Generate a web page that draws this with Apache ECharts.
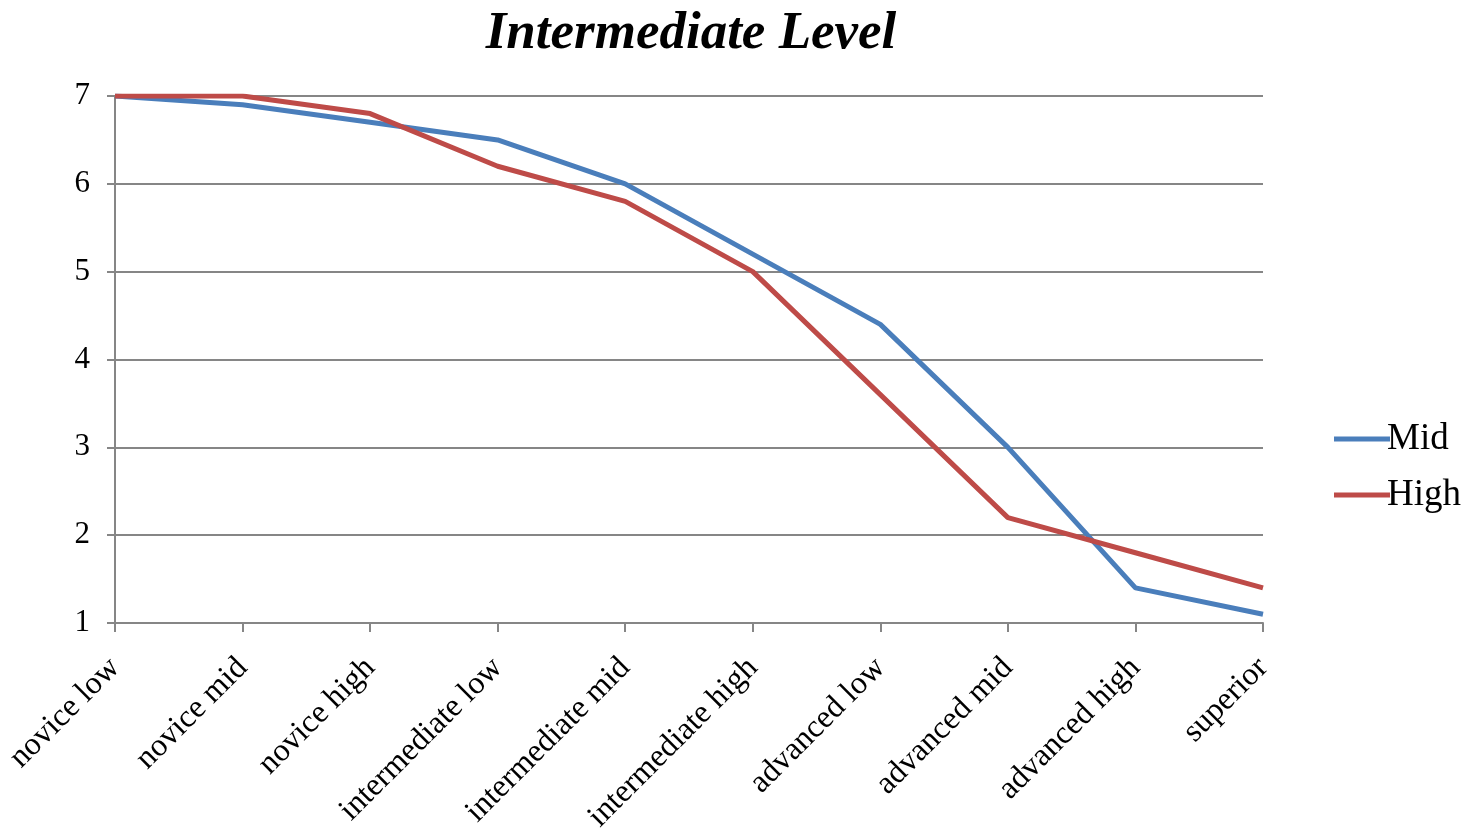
<!DOCTYPE html>
<html>
<head>
<meta charset="utf-8">
<script src="https://cdn.jsdelivr.net/npm/echarts@6/dist/echarts.min.js"></script>
<style>
html,body{margin:0;padding:0;background:#fff;}
#chart{width:1467px;height:828px;}
</style>
</head>
<body>
<div id="chart"></div>
<script>
const categories = ['novice low','novice mid','novice high','intermediate low','intermediate mid','intermediate high','advanced low','advanced mid','advanced high','superior'];
const midValues  = [7.0, 6.9, 6.7, 6.5, 6.0, 5.2, 4.4, 3.0, 1.4, 1.1];
const highValues = [7.0, 7.0, 6.8, 6.2, 5.8, 5.0, 3.6, 2.2, 1.8, 1.4];
const seriesNames = ['Mid', 'High'];
const titleText = 'Intermediate Level';

const serif = '"Liberation Serif","Times New Roman",serif';
const gridGrey = '#868686';

const chart = echarts.init(document.getElementById('chart'));
chart.setOption({
  backgroundColor: '#fff',
  animation: false,
  title: {
    text: titleText,
    left: 686,
    textAlign: 'center',
    top: 3,
    textStyle: { fontFamily: serif, fontSize: 53, fontWeight: 'bold', fontStyle: 'italic', color: '#000' }
  },
  legend: {
    orient: 'vertical',
    left: 1329,
    top: 414,
    itemWidth: 56,
    itemHeight: 5,
    itemGap: 16,
    icon: 'rect',
    textStyle: { fontFamily: serif, fontSize: 37, color: '#000', lineHeight: 40, padding: [0,0,0,-8] },
    data: seriesNames
  },
  grid: { left: 115, right: 204, top: 96, bottom: 205, containLabel: false, outerBoundsMode: 'none' },
  xAxis: {
    type: 'category',
    data: categories,
    boundaryGap: false,
    axisLine: { lineStyle: { color: gridGrey, width: 2 } },
    axisTick: { show: true, length: 9, alignWithLabel: true, lineStyle: { color: gridGrey, width: 2 } },
    axisLabel: { rotate: 45, margin: 40, interval: 0, fontFamily: serif, fontSize: 32, color: '#000' },
    splitLine: { show: false }
  },
  yAxis: {
    type: 'value',
    min: 1, max: 7, interval: 1,
    axisLine: { show: true, lineStyle: { color: gridGrey, width: 2 } },
    axisTick: { show: true, length: 8, lineStyle: { color: gridGrey, width: 2 } },
    axisLabel: { margin: 25, fontFamily: serif, fontSize: 31, color: '#000' },
    splitLine: { show: true, lineStyle: { color: gridGrey, width: 2 } }
  },
  series: [
    { name: seriesNames[0], type: 'line', data: midValues, showSymbol: false, symbol: 'none',
      lineStyle: { color: '#4A7EBB', width: 5 }, itemStyle: { color: '#4A7EBB' } },
    { name: seriesNames[1], type: 'line', data: highValues, showSymbol: false, symbol: 'none',
      lineStyle: { color: '#BE4B48', width: 5 }, itemStyle: { color: '#BE4B48' } }
  ]
});
</script>
</body>
</html>
